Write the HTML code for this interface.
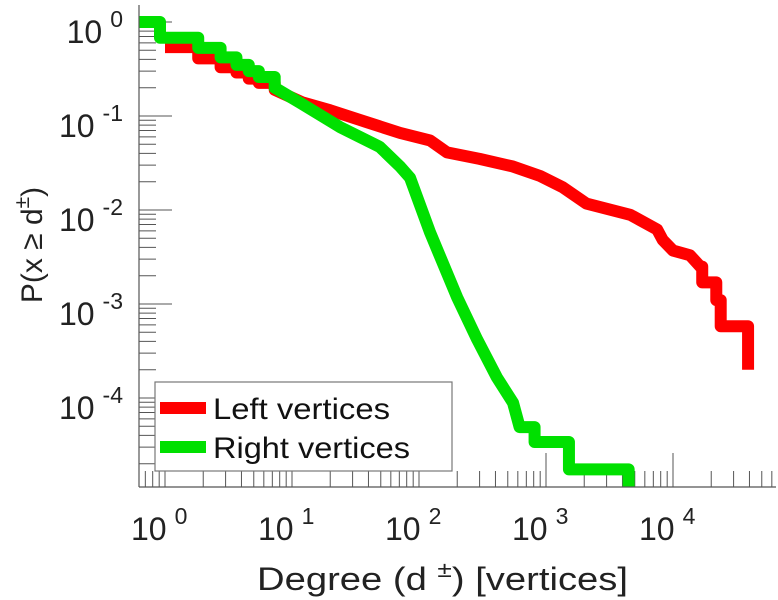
<!DOCTYPE html>
<html><head><meta charset="utf-8"><style>
html,body{margin:0;padding:0;background:#fff}
svg{display:block;font-family:"Liberation Sans",Arial,sans-serif}
</style></head><body>
<svg id="chart" width="778" height="600" viewBox="0 0 778 600" xmlns="http://www.w3.org/2000/svg">
<defs><clipPath id="plotclip"><rect x="139" y="5" width="637" height="482"/></clipPath></defs>
<g id="ticks"></g>
<g id="series" clip-path="url(#plotclip)"></g>
<line x1="139" y1="5" x2="139" y2="487" stroke="#555" stroke-width="1.2"/>
<line x1="139" y1="487" x2="776" y2="487" stroke="#555" stroke-width="1.2"/>
<g id="labels" fill="#222"></g>
<text transform="translate(42,245) rotate(-90)" text-anchor="middle" font-size="30" fill="#222">P(x ≥ d<tspan dy="-13" font-size="21">±</tspan><tspan dy="13">)</tspan></text>
<text x="257" y="590" font-size="32" textLength="371" lengthAdjust="spacingAndGlyphs" fill="#222">Degree (d   <tspan dy="-13" font-size="22">±</tspan><tspan dy="13">) [vertices]</tspan></text>
<g>
<rect x="155" y="382" width="297" height="89" fill="#fff" stroke="#777" stroke-width="1.2"/>
<line x1="160" y1="408" x2="206" y2="408" stroke="#ff0000" stroke-width="12"/>
<text x="213" y="419" font-size="30" textLength="177" lengthAdjust="spacingAndGlyphs" fill="#111">Left vertices</text>
<line x1="160" y1="447" x2="206" y2="447" stroke="#00e000" stroke-width="12"/>
<text x="213" y="458" font-size="30" textLength="197" lengthAdjust="spacingAndGlyphs" fill="#111">Right vertices</text>
</g>
</svg>
<script>
const leftDegrees = [1,2,3,4,5,6,8,12,20,34,71,122,166,300,550,900,1360,2080,4600,7500,8300,10000,13600,16400,18600,24000,26000,42700];
const leftProb = [0.54,0.41,0.33,0.29,0.25,0.225,0.19,0.14,0.115,0.091,0.066,0.055,0.041,0.035,0.029,0.023,0.0174,0.0117,0.0089,0.0062,0.0048,0.0037,0.0033,0.0025,0.0017,0.0011,0.00058,0.0002];
const rightDegrees = [0.6,1,2,3,4,5,6,8,11.6,24,49,71,85,122,200,287,410,550,620,890,1660,4900];
const rightProb = [1,0.68,0.53,0.42,0.35,0.30,0.26,0.2,0.138,0.076,0.047,0.029,0.022,0.0058,0.00117,0.00042,0.000166,0.000089,0.000049,0.000034,0.0000174,0.00000001];
const xTickExps = [0,1,2,3,4];
const yTickExps = [0,-1,-2,-3,-4];

const NS="http://www.w3.org/2000/svg";
function xp(d){return 165+127*Math.log10(d);}
function yp(p){return 22-94*Math.log10(p);}
function mk(tag,attrs,parent){const e=document.createElementNS(NS,tag);for(const k in attrs)e.setAttribute(k,attrs[k]);parent.appendChild(e);return e;}

const ticks=document.getElementById('ticks');
for(let e=-1;e<=4;e++){for(let m=1;m<=9;m++){const x=xp(m*Math.pow(10,e));if(x<139||x>776)continue;const len=m===1?34:16;
const t=mk('line',{x1:x,y1:487,x2:x,y2:487-len,stroke:'#555','stroke-width':1},ticks);

}}
for(let e=-5;e<=0;e++){for(let m=1;m<=9;m++){const y=yp(m*Math.pow(10,e));if(y<5||y>487)continue;const len=m===1?33:17;
const t=mk('line',{x1:139,y1:y,x2:139+len,y2:y,stroke:'#555','stroke-width':1},ticks);

}}

const labels=document.getElementById('labels');
xTickExps.forEach(e=>{const x=xp(Math.pow(10,e));
const t=mk('text',{x:x-34,y:540,'font-size':32},labels);


t.textContent='10';
const s=mk('tspan',{dx:8,dy:-16,'font-size':23},t);s.textContent=String(e);});
yTickExps.forEach(e=>{const y=yp(Math.pow(10,e));
const t=mk('text',{x:123,y:y+21,'font-size':32,'text-anchor':'end'},labels);


t.textContent='10';
const s=mk('tspan',{dx:8,dy:-16,'font-size':23},t);s.textContent=String(e);});

// smooth (line) segments for the dense middle, steps for sparse ends
function mixedPath(ds,ps,smoothFrom,smoothTo){let d='M'+xp(ds[0])+','+yp(ps[0]);
for(let i=1;i<ds.length;i++){
 const y=Math.min(yp(ps[i]),600);
 if(ds[i]>=smoothFrom && ds[i]<=smoothTo){d+=' L'+xp(ds[i])+','+y;}
 else {d+=' H'+(xp(ds[i])-5)+' V'+y;}
}
return d;}
const series=document.getElementById('series');
const red=mk('path',{d:mixedPath(leftDegrees,leftProb,10,17000),fill:'none',stroke:'#ff0000','stroke-width':12,'stroke-linejoin':'round'},series);


const green=mk('path',{d:mixedPath(rightDegrees,rightProb,10,700),fill:'none',stroke:'#00e000','stroke-width':12,'stroke-linejoin':'round'},series);


</script>
</body></html>
